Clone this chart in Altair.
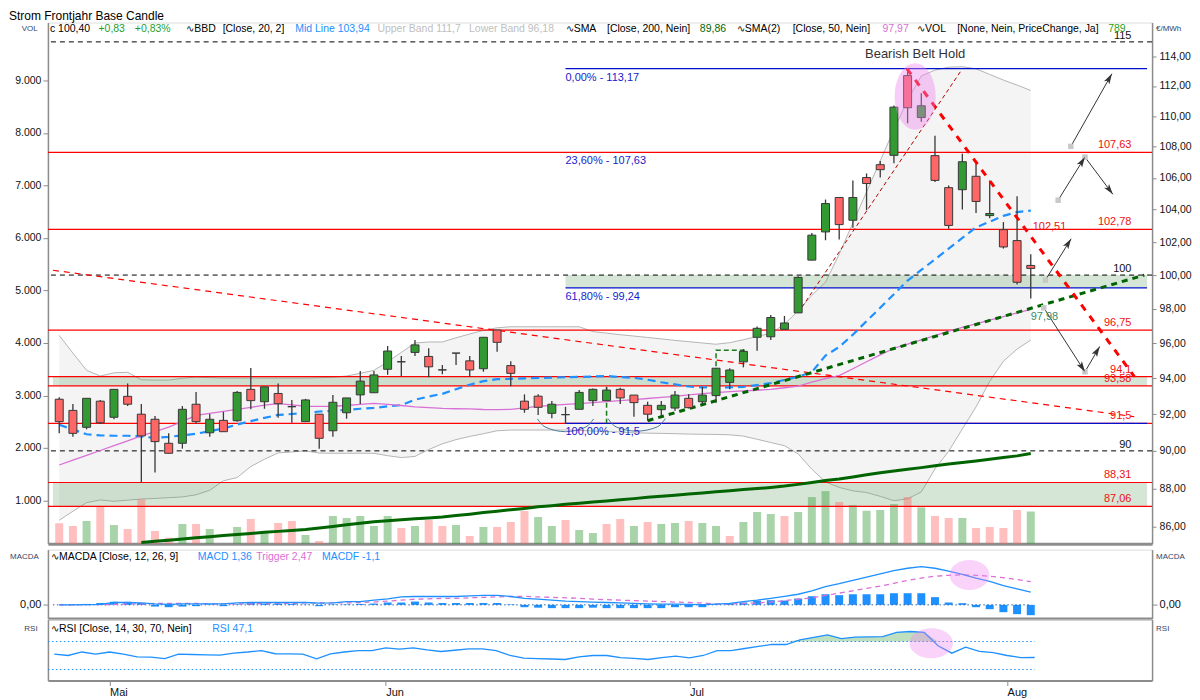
import altair as alt
import pandas as pd

FONT = "Liberation Sans"
GRAY = "#8c8c8c"

# ---------------- data ----------------
opens = [92.83, 92.21, 91.28, 92.72, 91.83, 92.99, 92.00, 91.72, 90.41, 90.41,
         92.55, 90.98, 91.66, 91.64, 93.38, 92.69, 93.15, 92.42, 91.59, 92.00,
         91.09, 92.08, 93.07, 93.19, 94.51, 94.94, 95.47, 95.24, 94.48, 95.43,
         94.99, 94.54, 96.76, 94.72, 92.72, 93.00, 92.05, 91.98, 92.27, 92.75,
         92.75, 93.38, 93.06, 92.49, 92.25, 92.34, 92.88, 92.69, 93.03, 93.77,
         94.93, 96.34, 96.37, 96.80, 97.76, 100.90, 102.62, 104.76, 103.34, 106.02,
         106.84, 107.44, 112.70, 109.90, 107.42, 105.38, 105.25, 106.10, 103.63, 102.76,
         102.09, 100.58]
highs = [92.94, 92.57, 92.88, 92.79, 93.38, 93.71, 92.57, 91.90, 90.95, 92.45,
         93.23, 92.01, 92.13, 93.29, 94.58, 93.52, 93.71, 92.79, 92.85, 92.00,
         93.07, 92.90, 94.41, 94.41, 95.84, 95.26, 96.18, 95.71, 94.75, 95.43,
         95.26, 96.34, 96.76, 94.97, 93.10, 93.10, 92.73, 92.41, 93.34, 93.43,
         93.49, 93.47, 93.06, 92.69, 92.73, 93.29, 93.10, 93.52, 94.57, 94.57,
         95.66, 96.96, 97.63, 97.58, 99.93, 102.56, 104.63, 104.76, 105.84, 106.28,
         107.07, 110.70, 113.17, 111.52, 108.71, 105.52, 107.55, 106.91, 105.84, 103.23,
         104.84, 101.26]
lows = [90.95, 90.77, 91.17, 91.46, 91.72, 92.45, 88.29, 88.84, 89.87, 90.12,
        91.50, 90.77, 91.04, 91.59, 92.27, 92.30, 91.81, 91.53, 91.59, 90.12,
        90.77, 91.75, 92.57, 93.19, 94.20, 94.13, 95.27, 94.06, 94.23, 94.75,
        94.09, 94.37, 95.51, 93.56, 92.08, 91.95, 91.77, 91.46, 92.27, 92.45,
        92.75, 92.57, 91.86, 91.64, 91.83, 92.19, 92.32, 92.57, 92.64, 93.38,
        94.62, 95.57, 96.18, 96.80, 97.76, 100.90, 102.11, 102.15, 102.88, 103.96,
        106.02, 106.94, 109.52, 109.62, 105.73, 102.82, 104.01, 103.79, 103.46, 101.60,
        99.44, 98.61]
closes = [91.59, 90.95, 92.88, 91.53, 93.38, 92.55, 90.81, 90.50, 89.87, 92.27,
          91.59, 91.72, 91.04, 93.21, 92.75, 93.52, 92.58, 92.41, 92.79, 90.68,
          92.66, 92.90, 93.84, 94.19, 95.55, 94.93, 95.90, 94.65, 94.47, 95.43,
          94.47, 96.34, 96.05, 94.28, 92.27, 92.38, 92.55, 91.97, 93.21, 93.38,
          93.34, 92.90, 92.64, 92.00, 92.49, 93.06, 92.36, 93.06, 94.57, 94.47,
          95.53, 96.86, 97.49, 97.17, 99.86, 102.42, 104.38, 103.07, 104.76, 105.64,
          106.52, 110.59, 110.55, 110.68, 105.84, 103.02, 107.03, 104.51, 103.76, 101.70,
          99.57, 100.40]
volumes = [565, 513, 608, 893, 532, 456, 1021, 418, 291, 551,
           551, 456, 100, 494, 646, 399, 570, 608, 342, 228,
           703, 665, 703, 513, 703, 475, 513, 627, 513, 532,
           323, 494, 494, 589, 798, 684, 513, 627, 437, 380,
           551, 646, 513, 589, 551, 570, 608, 570, 513, 323,
           589, 779, 741, 703, 779, 1065, 1179, 970, 912, 804,
           817, 931, 1065, 868, 703, 665, 665, 475, 494, 475,
           817, 789]
vol_dir_list = ["d", "d", "u", "d", "u", "d", "d", "d", "d", "u",
                "d", "u", "d", "u", "d", "u", "d", "d", "u", "d",
                "u", "u", "u", "u", "u", "d", "u", "d", "d", "u",
                "d", "u", "d", "d", "d", "u", "u", "d", "u", "u",
                "d", "d", "u", "d", "u", "u", "d", "u", "u", "d",
                "u", "u", "u", "d", "u", "u", "u", "d", "u", "u",
                "u", "u", "d", "u", "d", "d", "u", "d", "d", "d",
                "d", "u"]

bb_upper = [96.45, 95.43, 94.45, 94.13, 94.31, 94.34, 93.92, 93.90, 93.90, 94.00,
            94.07, 94.04, 94.01, 94.01, 94.01, 94.01, 94.01, 94.01, 94.01, 94.03,
            94.06, 94.13, 94.28, 94.45, 94.93, 95.47, 96.01, 96.07, 96.07, 96.31,
            96.53, 96.74, 96.89, 96.95, 96.95, 96.95, 96.95, 96.95, 96.95, 96.67,
            96.58, 96.49, 96.41, 96.33, 96.25, 96.16, 96.09, 96.01, 95.94, 96.03,
            96.20, 96.39, 96.57, 97.10, 97.88, 98.79, 99.58, 101.26, 103.17, 105.11,
            107.09, 109.11, 111.06, 112.68, 113.07, 113.27, 113.30, 113.16, 112.78, 112.40,
            112.06, 111.70]
bb_mid = [91.42, 91.16, 90.90, 90.84, 90.82, 90.82, 90.78, 90.70, 90.76, 90.84,
          90.93, 91.06, 91.22, 91.43, 91.62, 91.80, 91.96, 92.01, 92.06, 92.15,
          92.19, 92.24, 92.30, 92.35, 92.43, 92.50, 92.80, 92.98, 93.13, 93.39,
          93.64, 93.84, 93.95, 93.97, 94.00, 94.02, 94.04, 94.06, 94.08, 94.10,
          94.13, 94.07, 94.03, 93.92, 93.78, 93.66, 93.54, 93.49, 93.49, 93.49,
          93.52, 93.62, 93.73, 93.91, 94.09, 94.35, 95.29, 95.78, 96.49, 97.28,
          98.06, 98.86, 99.67, 100.31, 100.95, 101.60, 102.25, 102.90, 103.25, 103.61,
          103.85, 103.94]
bb_lower = [86.33, 86.80, 87.25, 87.39, 87.32, 87.38, 87.44, 87.47, 87.51, 87.55,
            87.66, 87.90, 88.40, 88.57, 89.16, 89.55, 89.89, 89.94, 90.00, 89.88,
            89.87, 89.87, 89.87, 89.87, 89.74, 89.64, 89.70, 90.07, 90.38, 90.61,
            90.78, 90.93, 91.09, 91.13, 91.13, 91.13, 91.13, 91.13, 91.11, 91.08,
            91.05, 91.02, 90.98, 90.96, 90.95, 90.93, 90.91, 90.90, 90.89, 90.87,
            90.80, 90.63, 90.45, 90.28, 89.84, 89.02, 88.34, 88.05, 87.87, 87.78,
            87.58, 87.35, 87.45, 87.81, 89.03, 89.98, 91.19, 92.40, 93.83, 94.97,
            95.66, 96.18]
sma50 = [89.24, 89.50, 89.76, 90.02, 90.28, 90.54, 90.81, 91.05, 91.29, 91.60,
         91.93, 92.04, 92.15, 92.27, 92.38, 92.50, 92.59, 92.52, 92.44, 92.43,
         92.44, 92.48, 92.54, 92.60, 92.54, 92.48, 92.41, 92.36, 92.32, 92.30,
         92.29, 92.26, 92.25, 92.27, 92.35, 92.43, 92.49, 92.54, 92.59, 92.64,
         92.69, 92.75, 92.81, 92.87, 92.93, 92.99, 93.07, 93.14, 93.20, 93.25,
         93.29, 93.33, 93.38, 93.47, 93.56, 93.79, 93.98, 94.15, 94.54, 94.94,
         95.33, 95.71, 95.94, 96.19, 96.44, 96.69, 96.91, 97.12, 97.33, 97.54,
         97.76, 97.97]
sma200 = [None, None, None, None, None, None, 85.19, 85.25, 85.31, 85.37,
          85.43, 85.49, 85.55, 85.60, 85.65, 85.71, 85.76, 85.81, 85.86, 85.93,
          86.01, 86.10, 86.18, 86.26, 86.31, 86.36, 86.41, 86.45, 86.50, 86.58,
          86.65, 86.73, 86.80, 86.88, 86.95, 87.03, 87.09, 87.16, 87.22, 87.28,
          87.34, 87.40, 87.46, 87.53, 87.58, 87.64, 87.70, 87.76, 87.82, 87.88,
          87.94, 87.99, 88.05, 88.12, 88.21, 88.31, 88.41, 88.49, 88.60, 88.72,
          88.83, 88.92, 89.01, 89.10, 89.20, 89.29, 89.38, 89.46, 89.55, 89.64,
          89.73, 89.86]

macd = [0, 0, 0.02, 0.05, 0.25, 0.25, 0.2, 0.1, 0.05, 0.1,
        0.1, 0.1, 0.1, 0.2, 0.25, 0.25, 0.25, 0.25, 0.25, 0.18,
        0.2, 0.35, 0.35, 0.5, 0.64, 0.85, 0.89, 0.89, 0.89, 0.89,
        0.95, 1.0, 1.0, 0.89, 0.7, 0.6, 0.5, 0.4, 0.35, 0.3,
        0.25, 0.2, 0.15, 0.1, 0.07, 0.07, 0.05, 0.02, 0.07, 0.15,
        0.35, 0.5, 0.7, 0.9, 1.13, 1.5, 1.95, 2.25, 2.6, 2.95,
        3.3, 3.65, 3.9, 4.07, 3.9, 3.6, 3.26, 2.85, 2.5, 2.05,
        1.7, 1.36]
trigger = [0, 0.02, 0.02, 0.02, 0.05, 0.1, 0.1, 0.15, 0.15, 0.15,
           0.15, 0.1, 0.1, 0.1, 0.1, 0.15, 0.15, 0.15, 0.2, 0.2,
           0.2, 0.2, 0.25, 0.3, 0.4, 0.5, 0.6, 0.64, 0.7, 0.7,
           0.75, 0.8, 0.85, 0.89, 0.9, 0.85, 0.8, 0.75, 0.7, 0.6,
           0.55, 0.5, 0.45, 0.4, 0.35, 0.3, 0.25, 0.2, 0.1, 0.1,
           0.15, 0.2, 0.3, 0.45, 0.6, 0.75, 1.0, 1.25, 1.5, 1.75,
           2.0, 2.3, 2.6, 2.85, 3.05, 3.15, 3.19, 3.15, 3.05, 2.9,
           2.7, 2.47]
macdf = [0, 0.05, 0.1, 0.2, 0.32, 0.32, 0.2, -0.18, -0.25, -0.18,
         -0.14, 0.05, -0.14, 0.05, 0.2, 0.14, 0.14, 0.1, 0.05, -0.14,
         0.05, 0.05, 0.1, 0.14, 0.25, 0.25, 0.35, 0.25, 0.2, 0.2,
         0.2, 0.2, 0.2, 0.05, -0.25, -0.3, -0.35, -0.35, -0.35, -0.3,
         -0.35, -0.35, -0.35, -0.35, -0.35, -0.25, -0.25, -0.25, 0.05, 0.14,
         0.25, 0.46, 0.5, 0.46, 0.67, 0.92, 1.13, 1.03, 1.13, 1.13,
         1.13, 1.24, 1.24, 1.24, 0.82, 0.25, 0.18, -0.25, -0.46, -0.78,
         -0.99, -1.1]
rsi = [52, 50, 55, 52, 55, 52, 48, 47.6, 45.5, 52,
       51.4, 51, 50.5, 53.5, 55, 57, 52.5, 52.4, 52, 45.2,
       52.4, 55, 57, 57, 61, 59, 61, 58, 55.7, 57.5,
       59.5, 59.5, 57, 50, 46.2, 45.5, 45, 44.3, 48, 50,
       50, 47, 46, 44.3, 47, 49, 46.7, 50, 57, 57,
       60, 63, 66, 65.7, 72.4, 76, 79.5, 74, 76.2, 76.5,
       77, 83, 84.3, 83, 64, 53.3, 61.9, 56, 54, 50,
       47, 47.1]

month_idx = [4, 24, 46, 69]
month_names = ["Mai", "Jun", "Jul", "Aug"]

red_levels = [107.63, 102.78, 96.75, 94.1, 93.58, 91.5, 88.31, 87.06]
red_labels = ["107,63", "102,78", "96,75", "94,1", "93,58", "91,5", "88,31", "87,06"]
black_levels = [115, 100, 90]
black_labels = ["115", "100", "90"]
fib_levels = [113.17, 107.63, 99.24, 91.5]
fib_labels = ["0,00% - 113,17", "23,60% - 107,63", "61,80% - 99,24", "100,00% - 91,5"]
fib_line_levels = [113.17, 99.24, 91.5]
zone_lo = [93.58, 87.06, 99.24]
zone_hi = [94.1, 88.31, 100.0]

trend_long = ([-0.46, 78.57], [100.29, 91.86])
trend_down = ([61.95, 78.57], [113.17, 94.1])
trend_thin = ([54.0, 65.92], [97.76, 113.05])
trend_up = ([43.0, 79.3], [91.64, 100.0])
measure_id = ["a", "a", "b", "b", "b"]
measure_idx = [40.0, 40.0, 50.1, 48.0, 48.0]
measure_val = [93.52, 91.52, 95.60, 95.60, 93.0]
arc_id = ["a1"] * 5 + ["a2"] * 5
arc_idx = [34.95, 35.5, 37.0, 38.5, 39.05, 40.1, 40.7, 42.2, 43.7, 44.3]
arc_val = [91.74, 91.3, 91.04, 91.3, 91.74, 91.76, 91.3, 91.07, 91.3, 91.76]

arrow_id = ["A", "A", "B", "B", "B", "C", "C", "D", "D", "D"]
arrow_idx = [73.93, 76.93, 73.0, 74.96, 77.0, 72.07, 73.95, 71.95, 74.96, 76.04]
arrow_val = [108.02, 112.83, 104.59, 107.33, 104.96, 99.70, 102.20, 98.06, 94.37, 95.81]
head_idx = [76.93, 74.96, 77.0, 73.95, 74.96, 76.04]
head_val = [112.83, 107.33, 104.96, 102.20, 94.37, 95.81]
head_ang = [29.8, 32, 142.8, 32, 147.3, 31]
node_idx = [73.93, 73.0, 74.96, 72.07, 71.95, 74.96]
node_val = [108.02, 104.59, 107.33, 99.70, 98.06, 94.37]

# ---------------- frames ----------------
n = len(closes)
idx = list(range(n))
X0, X1 = -0.46, 79.5
candles = pd.DataFrame(dict(idx=idx, open=opens, high=highs, low=lows, close=closes))
candles["dir"] = ["up" if c >= o else "down" for o, c in zip(opens, closes)]
ind = pd.DataFrame(dict(idx=idx, upper=bb_upper, mid=bb_mid, lower=bb_lower, sma50=sma50,
                        sma200=sma200, vol=volumes,
                        vdir=["up" if d == "u" else "down" for d in vol_dir_list],
                        macd=macd, trigger=trigger, hist=macdf, rsi=rsi))
red_df = pd.DataFrame(dict(price=red_levels, label=red_labels, lx=78.36))
black_df = pd.DataFrame(dict(price=black_levels, label=black_labels, lx=78.36))
fib_df = pd.DataFrame(dict(price=fib_levels, label=fib_labels, x1=37.0))
fib_line_df = pd.DataFrame(dict(price=fib_line_levels, x1=37.0, x2=X1))
zones = pd.DataFrame(dict(lo=zone_lo, hi=zone_hi, x1=[X0, X0, 37.0], x2=[X1, X1, X1]))


def two(pts):
    return pd.DataFrame(dict(idx=pts[0], price=pts[1]))


measure_df = pd.DataFrame(dict(id=measure_id, idx=measure_idx, price=measure_val, o=range(5)))
arc_df = pd.DataFrame(dict(id=arc_id, idx=arc_idx, price=arc_val, o=range(10)))
arrow_df = pd.DataFrame(dict(id=arrow_id, idx=arrow_idx, price=arrow_val, o=range(10)))
head_df = pd.DataFrame(dict(idx=head_idx, price=head_val, ang=head_ang))
node_df = pd.DataFrame(dict(idx=node_idx, price=node_val))

# ---------------- scales / axes ----------------
W, H_MAIN, H_MACD, H_RSI = 1106, 522, 69, 61
xs = alt.Scale(domain=[X0, X1], nice=False, zero=False)
ps = alt.Scale(type="log", domain=[85.13, 116.34], nice=False)
vs = alt.Scale(domain=[177, 10103], nice=False, zero=False)
ms = alt.Scale(domain=[-1.46, 5.88], nice=False, zero=False)
rs = alt.Scale(domain=[14.3, 101.4], nice=False, zero=False)

ax_sep = alt.Axis(title=None, labels=False, ticks=False, grid=False,
                  domainColor=GRAY, domainWidth=3, minExtent=0, maxExtent=0)
month_expr = " : ".join(f"datum.value == {i} ? '{m}'" for i, m in zip(month_idx, month_names)) + " : ''"
ax_bottom = alt.Axis(title=None, values=month_idx, labelExpr=month_expr, grid=False,
                     tickSize=5, tickColor=GRAY, domainColor=GRAY, domainWidth=2,
                     labelAlign="left", labelBaseline="top", labelPadding=1,
                     labelFontSize=11, labelColor="#111111", labelFont=FONT,
                     labelFlush=False, labelOverlap=False)
price_axis = alt.Axis(orient="right", values=list(range(86, 116, 2)),
                      labelExpr="replace(format(datum.value, '.2f'), '.', ',')",
                      title=None, grid=False, tickSize=4, tickColor=GRAY,
                      domainColor=GRAY, domainWidth=1.5, labelFontSize=10.5,
                      labelColor="#111111", labelFont=FONT, labelPadding=3,
                      labelOverlap=False)
vol_axis = alt.Axis(orient="left", values=list(range(1000, 10000, 1000)),
                    labelExpr="replace(format(datum.value, ',.0f'), ',', '.')",
                    title=None, grid=False, tickSize=5, tickColor=GRAY,
                    domainColor=GRAY, domainWidth=1.5, labelFontSize=10.5,
                    labelColor="#111111", labelFont=FONT, labelPadding=2,
                    labelOverlap=False)


def side_axis(orient, zero_label):
    if zero_label:
        return alt.Axis(orient=orient, values=[0], labelExpr="'0,00'", title=None, grid=False,
                        tickSize=5, tickColor=GRAY, domainColor=GRAY, domainWidth=1.5,
                        labelFontSize=11, labelColor="#111111", labelFont=FONT, labelPadding=2)
    return alt.Axis(orient=orient, labels=False, ticks=False, title=None, grid=False,
                    domainColor=GRAY, domainWidth=1.5)


def xq(f, axis=ax_sep):
    return alt.X(f"{f}:Q", scale=xs, axis=axis)


def P(f):
    return alt.Y(f"{f}:Q", scale=ps, axis=price_axis)


ONE = pd.DataFrame({"k": [0]})


def label(text, x, y, color="#000000", size=10.5, align="left", baseline="middle"):
    return alt.Chart(ONE).mark_text(text=text, align=align, baseline=baseline, fontSize=size,
                                    color=color, font=FONT).encode(x=alt.value(x), y=alt.value(y))


ELL_MAIN = "M0,-1A0.616,1,0,1,1,0,1A0.616,1,0,1,1,0,-1Z"
ELL_MACD = "M0,-1A1.333,1,0,1,1,0,1A1.333,1,0,1,1,0,-1Z"
ELL_RSI = "M0,-1A1.447,1,0,1,1,0,1A1.447,1,0,1,1,0,-1Z"
ARROW = "M0,0L-0.9,3L0,2.3L0.9,3Z"
PINK = "#ee82ee"

# ---------------- main panel ----------------
band_area = alt.Chart(ind).mark_area(color="#f4f4f4", opacity=1).encode(
    x=xq("idx"), y=alt.Y("lower:Q", scale=ps, axis=None), y2="upper")
band_lines = alt.Chart(ind).transform_fold(["upper", "lower"], as_=["band", "val"]).mark_line(
    color="#b5b5b5", strokeWidth=1).encode(
    x=xq("idx"), y=alt.Y("val:Q", scale=ps, axis=None), detail="band:N")
zone_rect = alt.Chart(zones).mark_rect(color="#5a9a5a", opacity=0.25).encode(
    x=xq("x1"), x2="x2", y=alt.Y("lo:Q", scale=ps, axis=None), y2="hi")
bg = alt.layer(band_area, band_lines, zone_rect)

vol_bars = alt.Chart(ind).mark_bar(size=8, clip=True, opacity=0.42).encode(
    x=xq("idx"), y=alt.Y("vol:Q", scale=vs, axis=vol_axis),
    color=alt.Color("vdir:N", scale=alt.Scale(domain=["up", "down"], range=["#339933", "#ff6666"]),
                    legend=None))

fg_layers = [
    alt.Chart(red_df).mark_rule(color="#ff0000", strokeWidth=1.2).encode(y=P("price")),
    alt.Chart(fib_line_df).mark_rule(color="#0010cc", strokeWidth=1.2).encode(
        x=xq("x1"), x2="x2", y=P("price")),
    alt.Chart(black_df).mark_rule(color="#000000", strokeWidth=1, strokeDash=[5, 4]).encode(y=P("price")),
    alt.Chart(ind).mark_line(color="#1e90ff", strokeWidth=2.2, strokeDash=[8, 5]).encode(
        x=xq("idx"), y=P("mid")),
    alt.Chart(ind).mark_line(color="#da70d6", strokeWidth=1.3).encode(x=xq("idx"), y=P("sma50")),
    alt.Chart(ind).transform_filter("isValid(datum.sma200)").mark_line(
        color="#006400", strokeWidth=3).encode(x=xq("idx"), y=P("sma200")),
    alt.Chart(two(trend_long)).mark_line(color="#ff0000", strokeWidth=1.2, strokeDash=[6, 5]).encode(
        x=xq("idx"), y=P("price")),
    alt.Chart(two(trend_thin)).mark_line(color="#b00000", strokeWidth=1, strokeDash=[4, 3]).encode(
        x=xq("idx"), y=P("price")),
    alt.Chart(two(trend_up)).mark_line(color="#006400", strokeWidth=3, strokeDash=[6, 5]).encode(
        x=xq("idx"), y=P("price")),
    alt.Chart(measure_df).mark_line(color="#1a7a1a", strokeWidth=1.5, strokeDash=[5, 3]).encode(
        x=xq("idx"), y=P("price"), detail="id:N", order="o:Q"),
    alt.Chart(arc_df).mark_line(color="#4a7a9a", strokeWidth=1, interpolate="monotone").encode(
        x=xq("idx"), y=P("price"), detail="id:N", order="o:Q"),
    alt.Chart(candles).mark_rule(color="#383838", strokeWidth=1.3).encode(
        x=xq("idx"), y=P("low"), y2="high"),
    alt.Chart(candles).mark_bar(size=8, stroke="#383838", strokeWidth=1, opacity=1,
                                fillOpacity=1).encode(
        x=xq("idx"), y=P("open"), y2="close",
        color=alt.Color("dir:N", scale=alt.Scale(domain=["up", "down"], range=["#006e00", "#cc2216"]),
                        legend=None)),
    alt.Chart(two(trend_down)).mark_line(color="#ff0000", strokeWidth=3, strokeDash=[7, 7]).encode(
        x=xq("idx"), y=P("price")),
    alt.Chart(pd.DataFrame(dict(idx=[62.55], price=[111.3]))).mark_point(
        shape=ELL_MAIN, size=4436, filled=True, color=PINK, opacity=0.4, strokeWidth=0).encode(
        x=xq("idx"), y=P("price")),
    alt.Chart(arrow_df).mark_line(color="#333333", strokeWidth=1).encode(
        x=xq("idx"), y=P("price"), detail="id:N", order="o:Q"),
    alt.Chart(node_df).mark_square(size=30, color="#c8c8c8", opacity=1).encode(x=xq("idx"), y=P("price")),
    alt.Chart(head_df).mark_point(shape=ARROW, size=49, filled=True, color="#333333", opacity=1,
                                  strokeWidth=0).encode(
        x=xq("idx"), y=P("price"), angle=alt.Angle("ang:Q", scale=None)),
    alt.Chart(red_df).mark_text(align="right", baseline="middle", dy=-7, fontSize=11, font=FONT,
                                color="#ee1111").encode(x=xq("lx"), y=P("price"), text="label:N"),
    alt.Chart(black_df).mark_text(align="right", baseline="middle", dy=-6, fontSize=11, font=FONT,
                                  color="#111111").encode(x=xq("lx"), y=P("price"), text="label:N"),
    alt.Chart(fib_df).mark_text(align="left", baseline="middle", dy=9, fontSize=11, font=FONT,
                                color="#1a1acc").encode(x=xq("x1"), y=P("price"), text="label:N"),
    alt.Chart(pd.DataFrame(dict(idx=[71], price=[102.51], t=["102,51"]))).mark_text(
        align="left", baseline="middle", dx=2, dy=-7, fontSize=11, font=FONT, color="#ee1111").encode(
        x=xq("idx"), y=P("price"), text="t:N"),
    alt.Chart(pd.DataFrame(dict(idx=[71], price=[97.98], t=["97,98"]))).mark_text(
        align="left", baseline="middle", dx=0, dy=8, fontSize=11, font=FONT, color="#3a8a6a").encode(
        x=xq("idx"), y=P("price"), text="t:N"),
    alt.Chart(pd.DataFrame(dict(idx=[62.55], price=[114.14], t=["Bearish Belt Hold"]))).mark_text(
        align="center", baseline="middle", fontSize=13, font=FONT, color="#333333").encode(
        x=xq("idx"), y=P("price"), text="t:N"),
]

GREEN_T = "#1f9f1f"
HEAD_Y = 6
header = [
    ("c 100,40", 2, "#000000"), ("+0,83", 50.6, GREEN_T), ("+0,83%", 87, GREEN_T),
    ("∿BBD", 138.6, "#000000"), ("[Close, 20, 2]", 175, "#000000"),
    ("Mid Line 103,94", 247.7, "#1e90ff"), ("Upper Band 111,7", 330, "#c0c0c0"),
    ("Lower Band 96,18", 421.8, "#c0c0c0"), ("∿SMA", 518.6, "#000000"),
    ("[Close, 200, Nein]", 560, "#000000"), ("89,86", 653, "#006400"),
    ("∿SMA(2)", 690, "#000000"), ("[Close, 50, Nein]", 746, "#000000"),
    ("97,97", 836, "#da70d6"), ("∿VOL", 870.6, "#000000"),
    ("[None, Nein, PriceChange, Ja]", 910.8, "#000000"), ("789", 1062, GREEN_T),
]
for t, x, c in header:
    fg_layers.append(label(t, x, HEAD_Y, c))
fg_layers.append(label("Strom Frontjahr Base Candle", -39, -12, "#000000", 12, "left", "top"))
fg_layers.append(label("VOL", -18.3, HEAD_Y, "#334466", 8, "center"))
fg_layers.append(label("€/MWh", 1110, HEAD_Y, "#334466", 8, "left"))

fg = alt.layer(*fg_layers)
main = alt.layer(bg, vol_bars, fg).resolve_scale(y="independent").properties(width=W, height=H_MAIN)

# ---------------- MACD panel ----------------
macd_l = side_axis("left", True)
macd_r = side_axis("right", True)
zero_df = pd.DataFrame(dict(x1=[X0], x2=[71], y=[0]))
macd_bars = alt.Chart(ind).mark_bar(size=8, color="#1e90ff", opacity=1).encode(
    x=xq("idx"), y=alt.Y("hist:Q", scale=ms, axis=macd_l))
macd_fg = alt.layer(
    alt.Chart(zero_df).mark_rule(color="#2060b0", strokeWidth=1, strokeDash=[1.5, 2.5]).encode(
        x=xq("x1"), x2="x2", y=alt.Y("y:Q", scale=ms, axis=macd_r)),
    alt.Chart(ind).mark_line(color="#da70d6", strokeWidth=1.3, strokeDash=[5, 4]).encode(
        x=xq("idx"), y=alt.Y("trigger:Q", scale=ms, axis=macd_r)),
    alt.Chart(ind).mark_line(color="#1e90ff", strokeWidth=1.3).encode(
        x=xq("idx"), y=alt.Y("macd:Q", scale=ms, axis=macd_r)),
    alt.Chart(pd.DataFrame(dict(idx=[66.52], v=[3.19]))).mark_point(
        shape=ELL_MACD, size=900, filled=True, color=PINK, opacity=0.35, strokeWidth=0).encode(
        x=xq("idx"), y=alt.Y("v:Q", scale=ms, axis=macd_r)),
    label("∿MACDA  [Close, 12, 26, 9]", 3, 7.5),
    label("MACD 1,36", 150, 7.5, "#1e90ff"),
    label("Trigger 2,47", 208.6, 7.5, "#da70d6"),
    label("MACDF -1,1", 274.5, 7.5, "#1e90ff"),
    label("MACDA", -23.5, 7.5, "#334466", 8, "center"),
    label("MACDA", 1110, 7.5, "#334466", 8, "left"),
)
macd_c = alt.layer(macd_bars, macd_fg).resolve_axis(y="independent").properties(width=W, height=H_MACD)

# ---------------- RSI panel ----------------
rsi_l = side_axis("left", False)
rsi_r = side_axis("right", False)
lvl_df = pd.DataFrame(dict(x1=[X0, X0], x2=[71, 71], y=[70, 30]))
rsi_area = alt.Chart(ind).transform_calculate(top="max(datum.rsi, 70)").mark_area(
    color="#bfe0bf", opacity=1).encode(
    x=xq("idx", ax_bottom), y=alt.Y("top:Q", scale=rs, axis=rsi_l), y2=alt.datum(70))
rsi_fg = alt.layer(
    alt.Chart(lvl_df).mark_rule(color="#1e90ff", strokeWidth=1, strokeDash=[1.5, 2.5]).encode(
        x=xq("x1", ax_bottom), x2="x2", y=alt.Y("y:Q", scale=rs, axis=rsi_r)),
    alt.Chart(ind).mark_line(color="#1e90ff", strokeWidth=1.3).encode(
        x=xq("idx", ax_bottom), y=alt.Y("rsi:Q", scale=rs, axis=rsi_r)),
    alt.Chart(pd.DataFrame(dict(idx=[63.51], v=[67.6]))).mark_point(
        shape=ELL_RSI, size=900, filled=True, color=PINK, opacity=0.35, strokeWidth=0).encode(
        x=xq("idx", ax_bottom), y=alt.Y("v:Q", scale=rs, axis=rsi_r)),
    label("∿RSI  [Close, 14, 30, 70, Nein]", 3, 9),
    label("RSI 47,1", 164.6, 9, "#1e90ff"),
    label("RSI", -17, 9, "#334466", 8, "center"),
    label("RSI", 1110, 9, "#334466", 8, "left"),
)
rsi_c = alt.layer(rsi_area, rsi_fg).resolve_axis(y="independent").properties(width=W, height=H_RSI)

chart = alt.vconcat(main, macd_c, rsi_c, spacing=-4).properties(
    padding={"left": 0, "top": 0, "right": 0, "bottom": 2}
).configure_view(strokeWidth=0).configure(font=FONT)

chart.save("out.html", embed_options={"renderer": "svg", "actions": False})
